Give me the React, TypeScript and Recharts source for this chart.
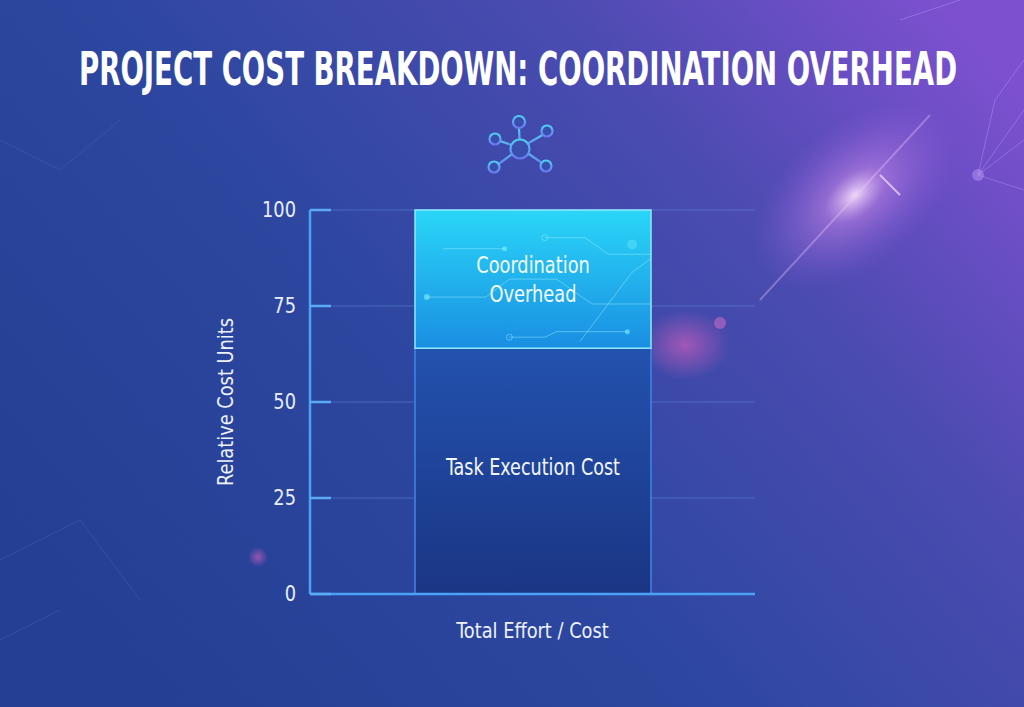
import React, { useLayoutEffect, useRef, useState } from 'react';
import { BarChart, Bar, XAxis, YAxis, CartesianGrid, LabelList } from 'recharts';

const categories = ['Total Effort / Cost'];
const taskExecutionCost = [64];
const coordinationOverhead = [36];
const yTicks = [0, 25, 50, 75, 100];
const seriesNames = { task: 'Task Execution Cost', overhead: ['Coordination', 'Overhead'] };
const titleText = 'PROJECT COST BREAKDOWN: COORDINATION OVERHEAD';
const yAxisTitle = 'Relative Cost Units';

const data = categories.map((name, i) => ({
  name,
  task: taskExecutionCost[i],
  overhead: coordinationOverhead[i],
}));

const FONT = "'DejaVu Sans Condensed', 'Liberation Sans Narrow', sans-serif";

const CondText = (props: any) => {
  const { x, y, k = 0.86, children, ...rest } = props;
  return (
    <g transform={`translate(${x},${y}) scale(${k},1)`}>
      <text x={0} y={0} fontFamily={FONT} {...rest}>
        {children}
      </text>
    </g>
  );
};

const YTick = (props: any) => {
  const { x, y, payload } = props;
  return (
    <g>
      <line x1={x + 14} x2={x + 35} y1={y} y2={y} stroke="#5aaaf5" strokeWidth={2.5} />
      <CondText x={x} y={y + 7} k={0.9} textAnchor="end" fill="#e8eeff" fontSize={22}>
        {payload.value}
      </CondText>
    </g>
  );
};

const XTick = (props: any) => {
  const { x, y, payload } = props;
  return (
    <CondText x={x} y={y + 14} k={0.9} textAnchor="middle" fill="#eef2ff" fontSize={22}>
      {payload.value}
    </CondText>
  );
};

const OverheadShape = (props: any) => {
  const { x, y, width, height } = props;
  const px = (f: number) => x + f * width;
  const py = (f: number) => y + f * height;
  return (
    <g>
      <rect x={x} y={y} width={width} height={height} fill="url(#gradOverhead)" />
      <g stroke="#9ef2ff" strokeOpacity={0.45} strokeWidth={1} fill="none">
        <path d={`M${px(0.55)} ${py(0.2)} H${px(0.72)} L${px(0.82)} ${py(0.32)} H${px(1)}`} />
        <path d={`M${px(0.05)} ${py(0.63)} H${px(0.3)} L${px(0.4)} ${py(0.5)} H${px(0.6)} L${px(0.75)} ${py(0.68)} H${px(1)}`} />
        <path d={`M${px(0.4)} ${py(0.92)} H${px(0.55)} L${px(0.6)} ${py(0.88)} H${px(0.9)}`} />
        <path d={`M${px(0.7)} ${py(0.95)} L${px(0.92)} ${py(0.45)} L${px(1)} ${py(0.35)}`} />
        <path d={`M${px(0.12)} ${py(0.28)} H${px(0.38)}`} />
        <circle cx={px(0.55)} cy={py(0.2)} r={3} />
        <circle cx={px(0.4)} cy={py(0.92)} r={3} />
      </g>
      <g fill="#7ff0ff" fillOpacity={0.6}>
        <circle cx={px(0.05)} cy={py(0.63)} r={3} />
        <circle cx={px(0.9)} cy={py(0.88)} r={2.5} />
        <circle cx={px(0.38)} cy={py(0.28)} r={2.5} />
        <circle cx={px(0.92)} cy={py(0.25)} r={5} fillOpacity={0.35} />
      </g>
      <rect x={x} y={y} width={width} height={height} fill="none" stroke="#8feaff" strokeWidth={1.5} />
      <line x1={x} x2={x + width} y1={y + height} y2={y + height} stroke="#7fe8ff" strokeWidth={2.5} filter="url(#glow)" />
    </g>
  );
};

const TaskShape = (props: any) => {
  const { x, y, width, height } = props;
  return (
    <g>
      <rect x={x} y={y} width={width} height={height} fill="url(#gradTask)" />
      <rect x={x} y={y} width={width} height={height} fill="none" stroke="#3f86e8" strokeWidth={1.5} />
      <line x1={x} x2={x} y1={y + height * 0.25} y2={y + height * 0.75} stroke="#7fd0ff" strokeWidth={2} strokeOpacity={0.6} filter="url(#glow)" />
      <line x1={x + width} x2={x + width} y1={y + height * 0.25} y2={y + height * 0.75} stroke="#7fd0ff" strokeWidth={2} strokeOpacity={0.6} filter="url(#glow)" />
      <line x1={x + width * 0.3} x2={x + width * 0.7} y1={y + height} y2={y + height} stroke="#8fdcff" strokeWidth={3} filter="url(#glow)" />
    </g>
  );
};

const TaskLabel = (props: any) => {
  const { x, y, width, height } = props;
  return (
    <CondText x={x + width / 2} y={y + height / 2 + 4} k={0.85} textAnchor="middle" fill="#f2f6ff" fontSize={23}>
      {seriesNames.task}
    </CondText>
  );
};

const OverheadLabel = (props: any) => {
  const { x, y, width, height } = props;
  const cx = x + width / 2;
  const cy = y + height / 2;
  return (
    <g>
      <CondText x={cx} y={cy - 6} k={0.86} textAnchor="middle" fill="#f2faff" fontSize={23}>
        {seriesNames.overhead[0]}
      </CondText>
      <CondText x={cx} y={cy + 23} k={0.86} textAnchor="middle" fill="#f2faff" fontSize={23}>
        {seriesNames.overhead[1]}
      </CondText>
    </g>
  );
};

const YLabel = (props: any) => {
  const vb = props.viewBox || {};
  const cx = vb.x - 24;
  const cy = vb.y + vb.height / 2;
  return (
    <g transform={`translate(${cx},${cy}) rotate(-90) scale(0.9,1)`}>
      <text x={0} y={7} textAnchor="middle" fill="#eef2ff" fontSize={22} fontFamily={FONT}>
        {yAxisTitle}
      </text>
    </g>
  );
};

const Title = () => {
  const ref = useRef<SVGTextElement>(null);
  const [k, setK] = useState(0.68);
  useLayoutEffect(() => {
    if (ref.current) {
      const w = ref.current.getComputedTextLength();
      if (w > 0) setK(878 / w);
    }
  }, []);
  return (
    <g transform={`translate(518,85) scale(${k},1)`}>
      <text ref={ref} x={0} y={0} textAnchor="middle" fill="#ffffff" fontSize={47} fontWeight="bold" fontFamily={FONT}>
        {titleText}
      </text>
    </g>
  );
};

const Background = () => (
  <svg width={1024} height={707} style={{ position: 'absolute', left: 0, top: 0 }}>
    <defs>
      <linearGradient id="bg" x1="0" y1="0.75" x2="1" y2="0.15">
        <stop offset="0" stopColor="#253f94" />
        <stop offset="0.4" stopColor="#2d47a0" />
        <stop offset="0.72" stopColor="#4a4bb0" />
        <stop offset="1" stopColor="#7c50cf" />
      </linearGradient>
      <radialGradient id="flare" cx="0.5" cy="0.5" r="0.5">
        <stop offset="0" stopColor="#ffe8ff" stopOpacity={0.9} />
        <stop offset="0.3" stopColor="#d890f0" stopOpacity={0.45} />
        <stop offset="1" stopColor="#9a60e0" stopOpacity={0} />
      </radialGradient>
      <radialGradient id="pink" cx="0.5" cy="0.5" r="0.5">
        <stop offset="0" stopColor="#e060c0" stopOpacity={0.6} />
        <stop offset="1" stopColor="#e060c0" stopOpacity={0} />
      </radialGradient>
      <linearGradient id="iconGrad" x1="0" y1="0" x2="0" y2="1">
        <stop offset="0" stopColor="#4fd0f0" />
        <stop offset="1" stopColor="#6a78f0" />
      </linearGradient>
    </defs>
    <rect width={1024} height={707} fill="url(#bg)" />
    <ellipse cx={855} cy={195} rx={120} ry={70} fill="url(#flare)" transform="rotate(-40 855 195)" />
    <line x1={760} y1={300} x2={930} y2={115} stroke="#f0c8ff" strokeOpacity={0.35} strokeWidth={2} />
    <line x1={880} y1={175} x2={900} y2={195} stroke="#f4e0ff" strokeOpacity={0.7} strokeWidth={2} />
    <ellipse cx={685} cy={345} rx={45} ry={35} fill="url(#pink)" />
    <circle cx={720} cy={323} r={6} fill="#e070c8" fillOpacity={0.5} />
    <circle cx={258} cy={557} r={10} fill="url(#pink)" />
    <g stroke="#c8a8ff" strokeOpacity={0.35} strokeWidth={1} fill="none">
      <path d="M978 175 L1024 140 M978 175 L1024 110 M978 175 L1024 190 M978 175 L995 100 L1024 60 M900 20 L960 0" />
    </g>
    <circle cx={978} cy={175} r={6} fill="#c8a8ff" fillOpacity={0.4} />
    <g stroke="#4a6ac0" strokeOpacity={0.35} strokeWidth={1} fill="none">
      <path d="M0 140 L60 170 L120 120 M0 560 L80 520 L140 600 M0 640 L60 610" />
    </g>
    <Title />
    <g stroke="url(#iconGrad)" strokeWidth={2.2} fill="none">
      <line x1={520} y1={148} x2={519} y2={128} />
      <line x1={520} y1={148} x2={497} y2={140} />
      <line x1={520} y1={148} x2={546} y2={133} />
      <line x1={520} y1={148} x2={496} y2={166} />
      <line x1={520} y1={148} x2={545} y2={165} />
      <circle cx={520} cy={149} r={9.5} fill="#3a4eae" />
      <circle cx={519} cy={122} r={6} fill="#3a4eae" />
      <circle cx={495} cy={139} r={5.5} fill="#3a4eae" />
      <circle cx={547} cy={131} r={5.5} fill="#3a4eae" />
      <circle cx={494} cy={167} r={5.5} fill="#3a4eae" />
      <circle cx={546} cy={166} r={5.5} fill="#3a4eae" />
    </g>
  </svg>
);

export default function App() {
  return (
    <div style={{ position: 'fixed', left: 0, top: 0, width: 1024, height: 707, overflow: 'hidden' }}>
      <Background />
      <div style={{ position: 'absolute', left: 0, top: 0 }}>
        <BarChart width={1024} height={707} data={data} margin={{ top: 210, right: 269, bottom: 73, left: 250 }}>
          <defs>
            <linearGradient id="gradOverhead" x1="0" y1="0" x2="0" y2="1">
              <stop offset="0" stopColor="#2ad6f8" />
              <stop offset="1" stopColor="#1a8ee2" />
            </linearGradient>
            <linearGradient id="gradTask" x1="0" y1="0" x2="0" y2="1">
              <stop offset="0" stopColor="#2352ae" />
              <stop offset="1" stopColor="#1b3584" />
            </linearGradient>
            <filter id="glow" x="-50%" y="-50%" width="200%" height="200%">
              <feGaussianBlur stdDeviation="2.5" result="b" />
              <feMerge>
                <feMergeNode in="b" />
                <feMergeNode in="SourceGraphic" />
              </feMerge>
            </filter>
          </defs>
          <CartesianGrid vertical={false} stroke="#6a9ae8" strokeOpacity={0.4} strokeWidth={1} />
          <XAxis
            dataKey="name"
            height={40}
            axisLine={{ stroke: '#4aa2f5', strokeWidth: 2.5 }}
            tickLine={false}
            tickMargin={24}
            tick={<XTick />}
          />
          <YAxis
            width={60}
            domain={[0, 100]}
            ticks={yTicks}
            interval={0}
            axisLine={{ stroke: '#4aa2f5', strokeWidth: 2.5 }}
            tickLine={false}
            tickSize={0}
            tickMargin={14}
            tick={<YTick />}
            label={<YLabel />}
          />
          <Bar dataKey="task" stackId="a" barSize={236} shape={<TaskShape />} isAnimationActive={false}>
            <LabelList dataKey="task" content={<TaskLabel />} />
          </Bar>
          <Bar dataKey="overhead" stackId="a" barSize={236} shape={<OverheadShape />} isAnimationActive={false}>
            <LabelList dataKey="overhead" content={<OverheadLabel />} />
          </Bar>
        </BarChart>
      </div>
    </div>
  );
}
